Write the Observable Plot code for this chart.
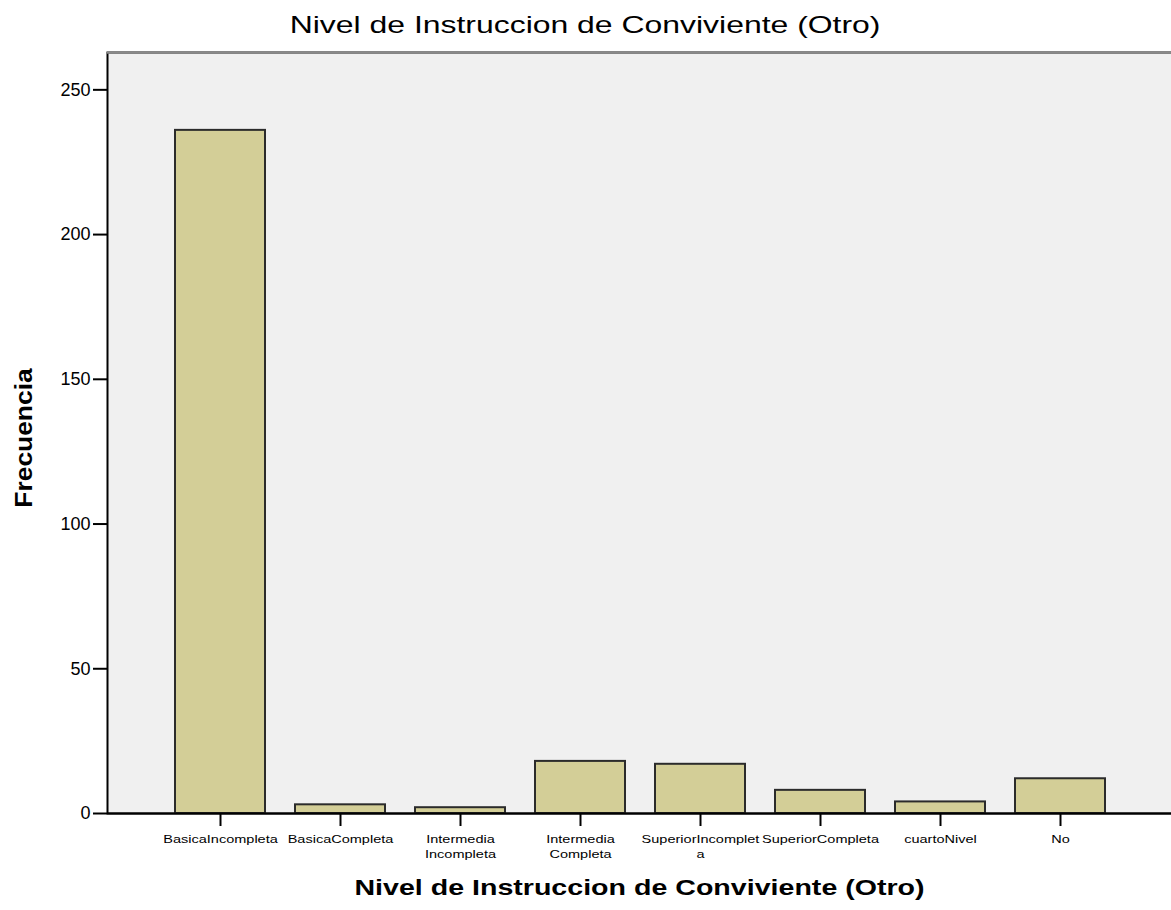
<!DOCTYPE html>
<html>
<head>
<meta charset="utf-8">
<script src="https://cdn.jsdelivr.net/npm/d3@7"></script>
<script src="https://cdn.jsdelivr.net/npm/@observablehq/plot@0.6"></script>
<style>
  html, body { margin: 0; padding: 0; background: #ffffff; }
  body { width: 1171px; height: 910px; overflow: hidden; font-family: "Liberation Sans", Arial, sans-serif; }
  #title { height: 51px; box-sizing: border-box; padding-top: 13px; line-height: 24px; font-size: 24px; text-align: center; color: #000; }
  #title span { display: inline-block; transform: scaleX(1.33); transform-origin: center; }
  #chart { width: 1171px; overflow: hidden; }
  #chart svg { display: block; overflow: hidden; }
</style>
</head>
<body>
<div id="title"><span>Nivel de Instruccion de Conviviente (Otro)</span></div>
<div id="chart"></div>
<script>
const categories = ["BasicaIncompleta", "BasicaCompleta", "IntermediaIncompleta", "IntermediaCompleta", "SuperiorIncompleta", "SuperiorCompleta", "cuartoNivel", "No"];
const tickLabels = ["BasicaIncompleta", "BasicaCompleta", "Intermedia\nIncompleta", "Intermedia\nCompleta", "SuperiorIncomplet\na", "SuperiorCompleta", "cuartoNivel", "No"];
const counts = [236, 3, 2, 18, 17, 8, 4, 12];
const yTicks = [0, 50, 100, 150, 200, 250];
const yMax = 262.9;
const xTitle = "Nivel de Instruccion de Conviviente (Otro)";
const yTitle = "Frecuencia";

const data = categories.map((c, i) => ({cat: c, n: counts[i]}));
const labelOf = new Map(categories.map((c, i) => [c, tickLabels[i]]));

const svg = Plot.plot({
  width: 1171,
  height: 859,
  marginTop: 1,
  marginLeft: 107,
  marginRight: 0,
  marginBottom: 97,
  style: {fontFamily: "'Liberation Sans', Arial, sans-serif", background: "white", color: "black", overflow: "hidden"},
  x: {domain: categories, range: [145, 1135], padding: 0.25},
  y: {domain: [0, yMax]},
  marks: [
    Plot.frame({fill: "#f0f0f0", stroke: "black", strokeWidth: 2, insetRight: -12}),
    Plot.ruleY([yMax], {stroke: "#8a8a8a", strokeWidth: 2.5}),
    Plot.barY(data, {x: "cat", y: "n", fill: "#d3ce97", stroke: "#2b2b2b", strokeWidth: 2}),
    Plot.ruleY([0], {stroke: "black", strokeWidth: 2}),
    Plot.axisY({ticks: yTicks, tickSize: 14, strokeWidth: 2, text: null, label: null}),
    Plot.axisY({ticks: yTicks, tickSize: 0, tickPadding: 17, fontSize: 18, label: null}),
    Plot.axisX({tickSize: 13, strokeWidth: 2, text: null, label: null}),
    Plot.axisX({tickSize: 0, tickPadding: 19, fontSize: 11, lineHeight: 1.36, tickFormat: d => labelOf.get(d), label: null}),
    Plot.text([yTitle], {frameAnchor: "left", textAnchor: "middle", lineAnchor: "middle", dx: -83, dy: 5, rotate: -90, fontSize: 24, fontWeight: "bold"}),
    Plot.text([xTitle], {frameAnchor: "bottom", textAnchor: "middle", lineAnchor: "middle", dy: 74, fontSize: 22, fontWeight: "bold"})
  ]
});

document.getElementById("chart").appendChild(svg);

// horizontal stretch of the text, as in the reference
d3.select(svg).selectAll('g[aria-label="x-axis tick label"] text')
  .attr("transform", function() { return (this.getAttribute("transform") || "") + " scale(1.32,1)"; });
d3.select(svg).selectAll("text").each(function() {
  const t = this.textContent;
  if (t === xTitle) this.setAttribute("transform", (this.getAttribute("transform") || "") + " scale(1.3,1)");
  if (t === yTitle) this.setAttribute("transform", (this.getAttribute("transform") || "") + " scale(1.1,1)");
});
</script>
</body>
</html>
